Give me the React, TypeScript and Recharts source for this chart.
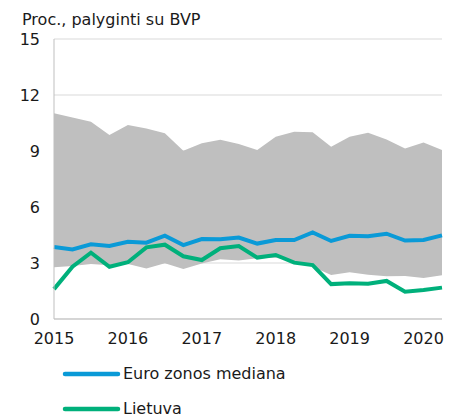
import React from 'react';
import { ComposedChart, Area, Line, XAxis, YAxis, CartesianGrid, Legend } from 'recharts';

const quarters = [
  2015, 2015.25, 2015.5, 2015.75,
  2016, 2016.25, 2016.5, 2016.75,
  2017, 2017.25, 2017.5, 2017.75,
  2018, 2018.25, 2018.5, 2018.75,
  2019, 2019.25, 2019.5, 2019.75,
  2020, 2020.25,
];

const rangeLow = [
  2.77, 2.84, 2.95, 2.88, 2.95, 2.71, 2.98, 2.68, 2.97, 3.2, 3.14,
  3.25, 3.28, 3.1, 2.8, 2.36, 2.5, 2.37, 2.29, 2.3, 2.2, 2.34,
];
const rangeHigh = [
  11.02, 10.8, 10.57, 9.86, 10.39, 10.21, 9.95, 9.02, 9.41, 9.6, 9.37,
  9.05, 9.77, 10.03, 10.0, 9.23, 9.77, 9.98, 9.62, 9.14, 9.45, 9.05,
];
const euroMedian = [
  3.86, 3.73, 4.0, 3.91, 4.14, 4.09, 4.46, 3.96, 4.28, 4.27, 4.36,
  4.04, 4.23, 4.23, 4.64, 4.18, 4.46, 4.43, 4.57, 4.2, 4.23, 4.48,
];
const lithuania = [
  1.6, 2.8, 3.55, 2.8, 3.04, 3.84, 3.98, 3.36, 3.16, 3.79, 3.91,
  3.29, 3.43, 3.02, 2.89, 1.87, 1.91, 1.89, 2.04, 1.46, 1.55, 1.68,
];

const yearTicks = [2015, 2016, 2017, 2018, 2019, 2020];
const valueTicks = [0, 3, 6, 9, 12, 15];

const data = quarters.map((q, i) => ({
  q,
  range: [rangeLow[i], rangeHigh[i]],
  median: euroMedian[i],
  lt: lithuania[i],
}));

const FONT = '"DejaVu Sans", Verdana, sans-serif';
const BLUE = '#0a9ad7';
const GREEN = '#00b07b';

const legendItems = [
  { label: 'Euro zonos mediana', color: BLUE },
  { label: 'Lietuva', color: GREEN },
];

const LegendBox = () => (
  <div style={{ fontFamily: FONT, fontSize: 16, color: '#1a1a1a' }}>
    {legendItems.map((it) => (
      <div key={it.label} style={{ display: 'flex', alignItems: 'center', height: 35 }}>
        <svg width={60} height={10} style={{ marginRight: 1 }}>
          <line x1={3} y1={5} x2={56} y2={5} stroke={it.color} strokeWidth={4.5} strokeLinecap="round" />
        </svg>
        <span>{it.label}</span>
      </div>
    ))}
  </div>
);

export default function App() {
  return (
    <div style={{ position: 'fixed', left: 0, top: 0, width: 450, height: 414, overflow: 'hidden', background: '#fff' }}>
      <div style={{ position: 'absolute', left: 22, top: 10, fontFamily: FONT, fontSize: 16, color: '#1a1a1a' }}>
        Proc., palyginti su BVP
      </div>
      <ComposedChart width={450} height={414} data={data} margin={{ top: 39, right: 8, left: 0, bottom: 65 }}>
        <CartesianGrid vertical={false} stroke="#d9d9d9" />
        <XAxis
          dataKey="q"
          type="number"
          domain={[2015, 2020.25]}
          ticks={yearTicks}
          height={30}
          tickLine={false}
          tickMargin={8}
          axisLine={{ stroke: '#bfbfbf' }}
          tick={{ fontFamily: FONT, fontSize: 16, fill: '#1a1a1a' }}
        />
        <YAxis
          domain={[0, 15]}
          ticks={valueTicks}
          width={54}
          tickLine={false}
          tickMargin={8}
          axisLine={{ stroke: '#bfbfbf' }}
          tick={{ fontFamily: FONT, fontSize: 16, fill: '#1a1a1a' }}
        />
        <Area dataKey="range" stroke="none" fill="#bfbfbf" fillOpacity={1} isAnimationActive={false} />
        <Line dataKey="median" stroke={BLUE} strokeWidth={4} dot={false} isAnimationActive={false} />
        <Line dataKey="lt" stroke={GREEN} strokeWidth={4} dot={false} isAnimationActive={false} />
        <Legend
          layout="horizontal"
          verticalAlign="middle"
          align="center"
          content={<LegendBox />}
          wrapperStyle={{ left: 62, top: 356, width: 300 }}
        />
      </ComposedChart>
    </div>
  );
}
